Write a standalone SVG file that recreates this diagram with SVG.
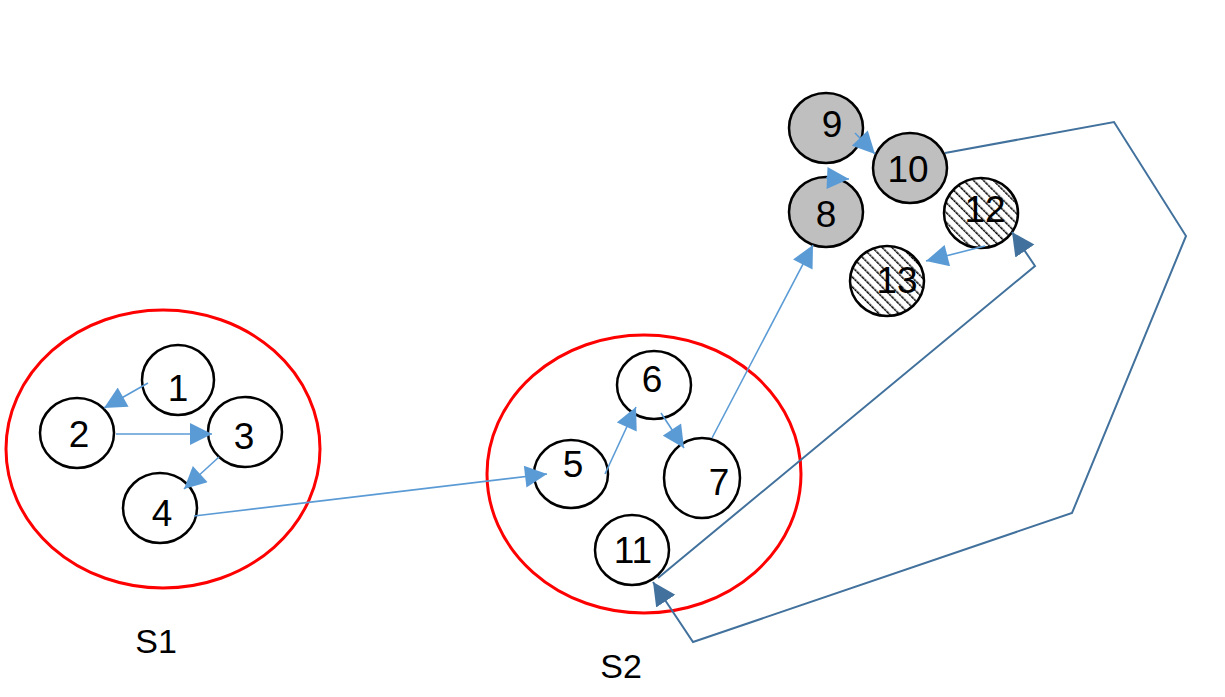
<svg xmlns="http://www.w3.org/2000/svg" width="1225" height="697" viewBox="0 0 1225 697">
<style>
.set{fill:none;stroke:#FF0000;stroke-width:3}
.n{fill:#FFFFFF;stroke:#000000;stroke-width:2.5}
.g{fill:#BFBFBF;stroke:#000000;stroke-width:2.5}
.h{fill:url(#hatch);stroke:#000000;stroke-width:2.5}
.t{font-family:"Liberation Sans",Arial,sans-serif;font-size:37px;fill:#000000;text-anchor:middle}
.lb{font-family:"Liberation Sans",Arial,sans-serif;font-size:34px;fill:#000000;text-anchor:middle}
.c1{fill:none;stroke:#5B9BD5;stroke-width:1.6;marker-end:url(#a1)}
.c2{fill:none;stroke:#41719C;stroke-width:2;marker-end:url(#a2)}
</style>
<defs>
<pattern id="hatch" width="7" height="7" patternUnits="userSpaceOnUse" patternTransform="rotate(-45)">
<rect width="7" height="7" fill="#FFFFFF"/>
<line x1="0" y1="0" x2="0" y2="7" stroke="#000000" stroke-width="3" stroke-dasharray="3 0.6"/>
</pattern>
<marker id="a1" viewBox="0 0 10 10" refX="10" refY="5" markerWidth="23" markerHeight="22" markerUnits="userSpaceOnUse" orient="auto">
<path d="M0,0 L10,5 L0,10 z" fill="#5B9BD5"/>
</marker>
<marker id="a2" viewBox="0 0 10 10" refX="10" refY="5" markerWidth="23" markerHeight="24" markerUnits="userSpaceOnUse" orient="auto">
<path d="M0,0 L10,5 L0,10 z" fill="#41719C"/>
</marker>
</defs>
<rect width="1225" height="697" fill="#FFFFFF"/>
<g id="S1">
<ellipse class="set" cx="163" cy="449" rx="157" ry="139"/>
<text class="lb" x="156" y="653">S1</text>
</g>
<g id="S2">
<ellipse class="set" cx="644" cy="474" rx="157" ry="139"/>
<text class="lb" x="621" y="678">S2</text>
</g>
<g id="n1"><ellipse class="n" cx="178" cy="380" rx="36" ry="35"/><text class="t" x="178" y="401">1</text></g>
<g id="n2"><ellipse class="n" cx="77" cy="433" rx="37" ry="35"/><text class="t" x="79" y="447">2</text></g>
<g id="n3"><ellipse class="n" cx="245" cy="432" rx="37" ry="35"/><text class="t" x="244" y="449">3</text></g>
<g id="n4"><ellipse class="n" cx="160" cy="508" rx="37" ry="35"/><text class="t" x="162" y="526">4</text></g>
<g id="n5"><ellipse class="n" cx="571" cy="474" rx="37" ry="34"/><text class="t" x="573" y="477">5</text></g>
<g id="n6"><ellipse class="n" cx="654" cy="385" rx="37" ry="34"/><text class="t" x="652" y="392">6</text></g>
<g id="n7"><ellipse class="n" cx="702" cy="478" rx="38" ry="40"/><text class="t" x="719" y="495">7</text></g>
<g id="n11"><ellipse class="n" cx="632" cy="550" rx="37" ry="35"/><text class="t" x="633" y="563">11</text></g>
<g id="n9"><ellipse class="g" cx="826" cy="128" rx="37" ry="35"/><text class="t" x="832" y="137">9</text></g>
<g id="n10"><ellipse class="g" cx="910" cy="168" rx="37" ry="35"/><text class="t" x="908" y="182">10</text></g>
<g id="n8"><ellipse class="g" cx="826" cy="212" rx="37" ry="35"/><text class="t" x="826" y="227">8</text></g>
<g id="n12"><ellipse class="h" cx="981" cy="213" rx="37" ry="35"/><text class="t" x="985" y="222">12</text></g>
<g id="n13"><ellipse class="h" cx="887" cy="281" rx="37" ry="35"/><text class="t" x="897" y="293">13</text></g>
<g id="connectors">
<path class="c1" d="M148,383 L104,408"/>
<path class="c1" d="M116,434 L212,434"/>
<path class="c1" d="M219,457 L184,489"/>
<path class="c1" d="M194,516 L547,474"/>
<path class="c1" d="M605,474 L636,407"/>
<path class="c1" d="M661,413 L684,448"/>
<path class="c1" d="M712,438 L813,245"/>
<path class="c1" d="M826,178 L849,179"/>
<path class="c1" d="M855,133 L875,154"/>
<path class="c1" d="M985,246 L926,261"/>
<path class="c2" d="M945,153 L1114,122 L1186,236 L1072,513 L693,642 L653,582"/>
<path class="c2" d="M658,578 L1035,266 L1012,232"/>
</g>
</svg>
